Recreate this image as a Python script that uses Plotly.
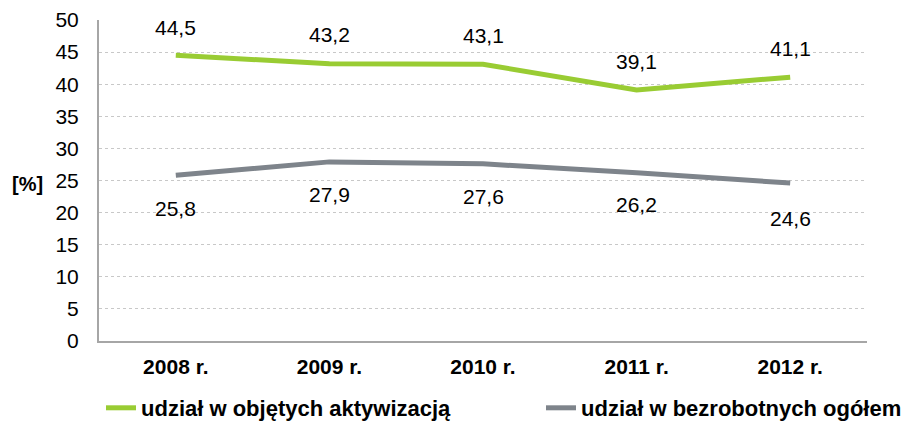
import plotly.graph_objects as go

years = ["2008 r.", "2009 r.", "2010 r.", "2011 r.", "2012 r."]
aktyw = [44.5, 43.2, 43.1, 39.1, 41.1]
ogolem = [25.8, 27.9, 27.6, 26.2, 24.6]
aktyw_labels = ["44,5", "43,2", "43,1", "39,1", "41,1"]
ogolem_labels = ["25,8", "27,9", "27,6", "26,2", "24,6"]
y_ticks = [0, 5, 10, 15, 20, 25, 30, 35, 40, 45, 50]

# label pixel offsets (as in the original)
aktyw_shift = [28, 29, 29, 28, 29]
ogolem_shift = [-33, -33, -33, -32, -35]

GREEN = "#99CC33"
GRAY = "#7E848B"
FONT = "Liberation Sans, Arial, sans-serif"

fig = go.Figure()
fig.add_trace(go.Scatter(x=years, y=aktyw, mode="lines", name="udział w objętych aktywizacją",
                         line=dict(color=GREEN, width=5), legend="legend"))
fig.add_trace(go.Scatter(x=years, y=ogolem, mode="lines", name="udział w bezrobotnych ogółem",
                         line=dict(color=GRAY, width=5), legend="legend2"))

for x, y, t, s in zip(years, aktyw, aktyw_labels, aktyw_shift):
    fig.add_annotation(x=x, y=y, text=t, showarrow=False, yshift=s,
                       font=dict(family=FONT, size=21, color="#000"))
for x, y, t, s in zip(years, ogolem, ogolem_labels, ogolem_shift):
    fig.add_annotation(x=x, y=y, text=t, showarrow=False, yshift=s,
                       font=dict(family=FONT, size=21, color="#000"))

fig.add_annotation(xref="paper", yref="paper", x=(27 - 99) / 768, y=(341 - 184) / 321,
                   xanchor="center", yanchor="middle", text="<b>[%]</b>", showarrow=False,
                   font=dict(family=FONT, size=20, color="#000"))

legend_common = dict(orientation="h", xanchor="left", y=(341 - 408) / 321, yanchor="middle",
                     font=dict(family=FONT, size=22, color="#000", weight="bold"),
                     itemwidth=30, bgcolor="rgba(0,0,0,0)")

fig.update_layout(
    width=903, height=423,
    margin=dict(l=99, r=36, t=20, b=82, autoexpand=False),
    paper_bgcolor="white", plot_bgcolor="white",
    font=dict(family=FONT, size=21, color="#000"),
    showlegend=True,
    legend=dict(x=(101 - 99) / 768, **legend_common),
    legend2=dict(x=(541 - 99) / 768, **legend_common),
    xaxis=dict(showline=True, linecolor="#A6A6A6", linewidth=2, ticks="",
               tickfont=dict(family=FONT, size=21, color="#000", weight="bold"),
               ticklabelstandoff=6,
               showgrid=False, range=[-0.5, 4.5]),
    yaxis=dict(range=[0, 50], tickvals=y_ticks, showline=True, linecolor="#A6A6A6", linewidth=2,
               showgrid=True, gridcolor="#C8C8C8", griddash="dot", gridwidth=1,
               ticks="", ticklabelstandoff=14, zeroline=False,
               tickfont=dict(family=FONT, size=21, color="#000")),
)
fig.write_html("out.html", config={"displayModeBar": False},
               post_script="document.body.style.margin='0';document.body.style.padding='0';window.dispatchEvent(new Event('resize'));")
